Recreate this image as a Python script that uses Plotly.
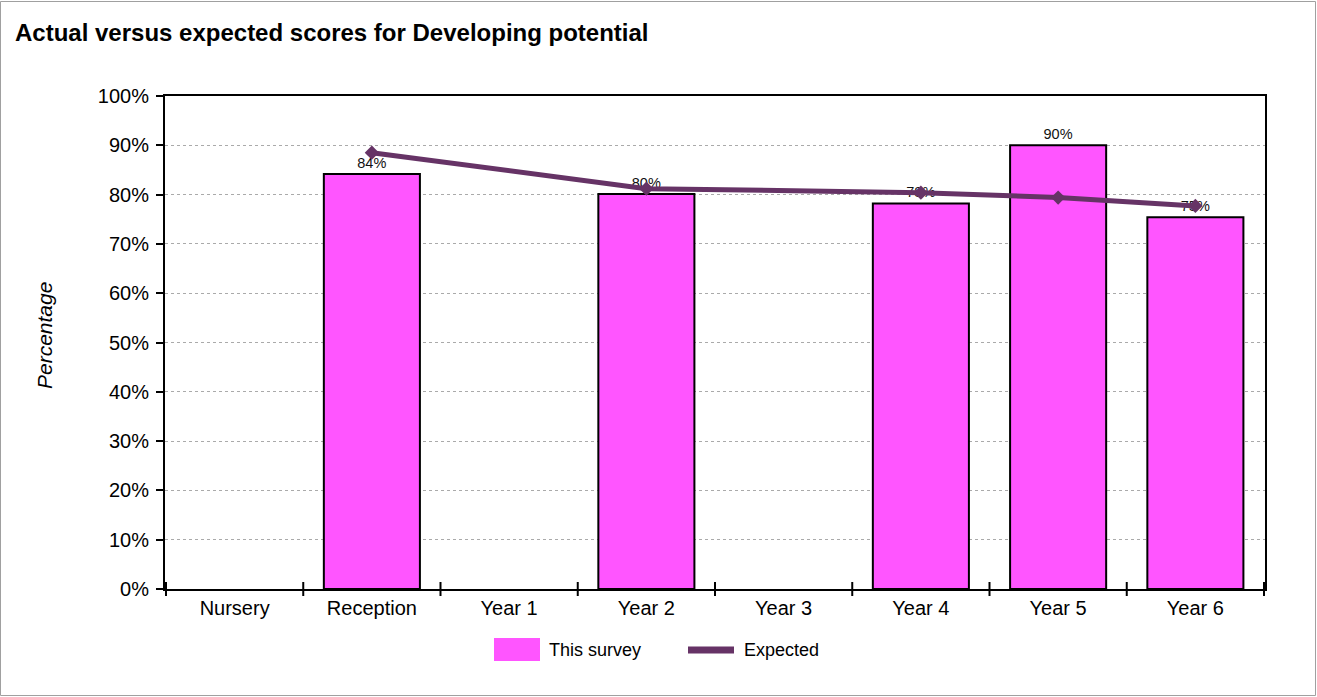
import plotly.graph_objects as go

categories = ["Nursery", "Reception", "Year 1", "Year 2", "Year 3", "Year 4", "Year 5", "Year 6"]
survey = [None, 84.2, None, 80.1, None, 78.2, 90.0, 75.4]
expected = [None, 88.5, None, 81.2, None, 80.4, 79.4, 77.7]
y_ticks = [0, 10, 20, 30, 40, 50, 60, 70, 80, 90, 100]
y_tick_labels = [f"{v}%" for v in y_ticks]
series_names = ["This survey", "Expected"]

FONT = "Arial, Liberation Sans, sans-serif"
BAR_COLOR = "#FF55FF"
LINE_COLOR = "#663366"

W, H = 1317, 697
L, R, T, B = 165, 52, 96, 108
pw, ph = W - L - R, H - T - B


def px_x(px):
    return (px - L) / pw


def px_y(py):
    return (H - B - py) / ph


fig = go.Figure()
fig.add_trace(go.Bar(
    x=categories, y=survey, name=series_names[0],
    marker=dict(color=BAR_COLOR, line=dict(color="black", width=2)),
    width=0.7,
    text=[f"{v:.0f}%" if v is not None else "" for v in survey],
    textposition="outside", cliponaxis=False,
    textfont=dict(family=FONT, size=14.5, color="#111"),
))
fig.add_trace(go.Scatter(
    x=categories, y=expected, name=series_names[1], mode="lines+markers",
    connectgaps=True,
    line=dict(color=LINE_COLOR, width=5),
    marker=dict(symbol="diamond", size=11, color=LINE_COLOR),
))

shapes = [
    # outer chart border
    dict(type="rect", xref="paper", yref="paper",
         x0=px_x(0.5), x1=px_x(1315.5), y0=px_y(695.5), y1=px_y(1.5),
         line=dict(color="#A0A0A0", width=1), fillcolor="rgba(0,0,0,0)", layer="below"),
    # legend swatches
    dict(type="rect", xref="paper", yref="paper",
         x0=px_x(494), x1=px_x(540), y0=px_y(661), y1=px_y(638),
         line=dict(width=0), fillcolor=BAR_COLOR),
    dict(type="line", xref="paper", yref="paper",
         x0=px_x(688), x1=px_x(734), y0=px_y(650), y1=px_y(650),
         line=dict(color=LINE_COLOR, width=7)),
]
# category boundary ticks crossing the x axis
for i in range(len(categories) + 1):
    shapes.append(dict(type="line", xref="x", yref="paper",
                       x0=i - 0.5, x1=i - 0.5, y0=px_y(596), y1=px_y(582),
                       line=dict(color="black", width=2)))

annotations = [
    dict(text="This survey", xref="paper", yref="paper", x=px_x(547), y=px_y(650),
         xanchor="left", yanchor="middle", showarrow=False,
         font=dict(family=FONT, size=18, color="black")),
    dict(text="Expected", xref="paper", yref="paper", x=px_x(742), y=px_y(650),
         xanchor="left", yanchor="middle", showarrow=False,
         font=dict(family=FONT, size=18, color="black")),
    dict(text="<i>Percentage</i>", xref="paper", yref="paper", x=px_x(44), y=px_y(336),
         xanchor="center", yanchor="middle", showarrow=False, textangle=-90,
         font=dict(family=FONT, size=21, color="black")),
]

fig.update_layout(
    width=W, height=H,
    margin=dict(l=L, r=R, t=T, b=B),
    paper_bgcolor="white", plot_bgcolor="white",
    font=dict(family=FONT, size=20, color="black"),
    title=dict(text="<b>Actual versus expected scores for Developing potential</b>",
               x=15 / W, xanchor="left", y=1 - 33 / H, yanchor="middle",
               font=dict(family=FONT, size=24, color="black")),
    showlegend=False,
    bargap=0.3,
    shapes=shapes,
    annotations=annotations,
)
fig.update_xaxes(
    type="category", showline=True, linecolor="black", linewidth=2, mirror=True,
    ticks="", tickfont=dict(family=FONT, size=20), showgrid=False,
)
fig.update_yaxes(
    range=[0, 100], tickvals=y_ticks, ticktext=y_tick_labels,
    showline=True, linecolor="black", linewidth=2, mirror=True,
    ticks="outside", ticklen=7, tickwidth=2, tickcolor="black",
    tickfont=dict(family=FONT, size=20), ticklabelstandoff=3,
    showgrid=True, gridcolor="#AAAAAA", griddash="dot", gridwidth=1,
    zeroline=False,
)
fig.write_html("out.html", config={"displayModeBar": False},
               post_script="document.body.style.margin='0';")
